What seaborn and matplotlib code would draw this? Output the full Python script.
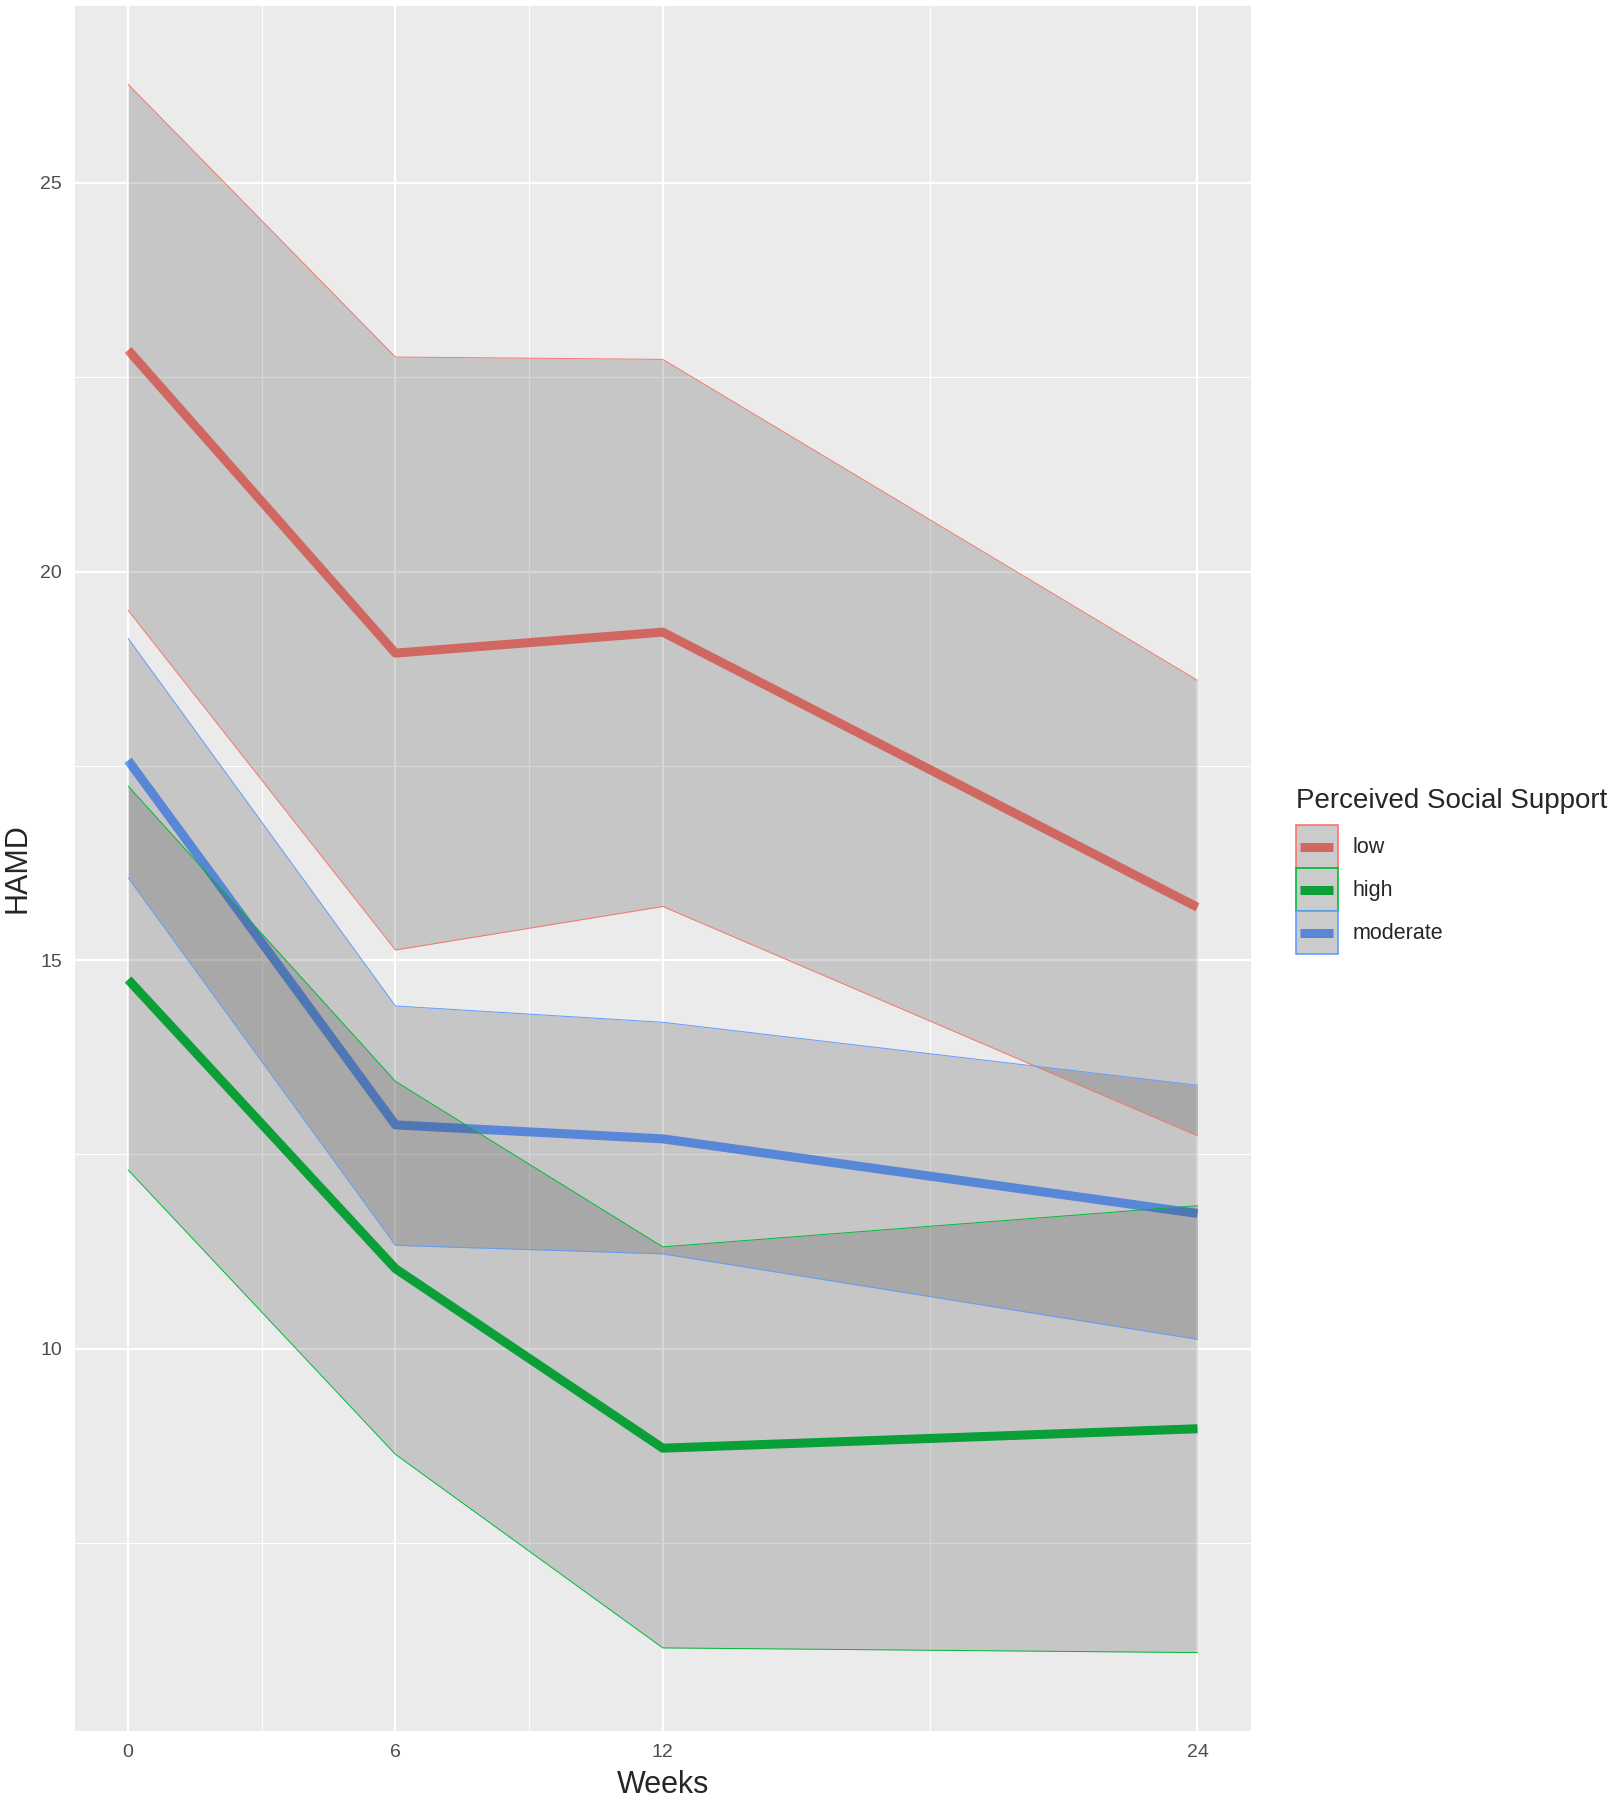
import numpy as np
import pandas as pd
import matplotlib
matplotlib.use("Agg")
import matplotlib.pyplot as plt
import seaborn as sns
from matplotlib.patches import Rectangle
from matplotlib.lines import Line2D
from matplotlib.legend_handler import HandlerBase


weeks = [0, 6, 12, 24]
groups = ["low", "high", "moderate"]

low_mean = [22.85, 18.95, 19.22, 15.68]
low_upper = [26.27, 22.76, 22.73, 18.60]
low_lower = [19.50, 15.13, 15.69, 12.74]

high_mean = [14.75, 11.03, 8.72, 8.97]
high_upper = [17.24, 13.44, 11.31, 11.84]
high_lower = [12.30, 8.64, 6.15, 6.09]

mod_mean = [17.57, 12.88, 12.70, 11.74]
mod_upper = [19.14, 14.41, 14.20, 13.39]
mod_lower = [16.06, 11.33, 11.22, 10.12]

colors = {"low": "#F8766D", "high": "#00BA38", "moderate": "#619CFF"}

df = pd.DataFrame({
    "Weeks": weeks * 3,
    "HAMD": low_mean + high_mean + mod_mean,
    "support": [g for g in groups for _ in weeks],
})
bands = {
    "low": (low_lower, low_upper),
    "high": (high_lower, high_upper),
    "moderate": (mod_lower, mod_upper),
}

sns.set_theme(style="darkgrid", rc={
    "axes.facecolor": "#EBEBEB",
    "grid.color": "white",
    "figure.facecolor": "white",
})
plt.rcParams["font.family"] = ["Liberation Sans", "DejaVu Sans"]
narrow = ["Liberation Sans Narrow", "Liberation Sans", "DejaVu Sans"]

fig = plt.figure(figsize=(16.12, 18), dpi=100)
ax = fig.add_axes([0.0463, 0.0383, 0.7297, 0.9585])

sns.lineplot(data=df, x="Weeks", y="HAMD", hue="support", hue_order=groups,
             palette=colors, lw=6.5, legend=False, estimator=None,
             errorbar=None, ax=ax, zorder=2)
for line in ax.get_lines():
    line.set_solid_capstyle("butt")

# ribbons on top of the mean lines, grey20 at alpha .2 like ggplot
for g in groups:
    lo, hi = bands[g]
    ax.fill_between(weeks, lo, hi, color=(0.2, 0.2, 0.2), alpha=0.2, lw=0, zorder=3)
    ax.plot(weeks, lo, color=colors[g], lw=0.7, zorder=4)
    ax.plot(weeks, hi, color=colors[g], lw=0.7, zorder=4)

ax.set_xlim(-1.2, 25.2)
ax.set_ylim(5.08, 27.28)
ax.set_xticks([0, 6, 12, 24])
ax.set_xticks([3, 9, 18], minor=True)
ax.set_yticks([10, 15, 20, 25])
ax.set_yticks([7.5, 12.5, 17.5, 22.5], minor=True)
ax.grid(which="major", lw=1.6)
ax.grid(which="minor", lw=0.8)
for s in ax.spines.values():
    s.set_visible(False)
ax.tick_params(which="major", length=5, width=1.2, color="#333333",
               labelcolor="#4D4D4D", labelsize=14)
ax.tick_params(axis="y", pad=4)
ax.tick_params(axis="x", pad=4)
ax.tick_params(which="minor", length=0)
for lab in ax.get_xticklabels() + ax.get_yticklabels():
    lab.set_family(narrow)

ax.set_xlabel("Weeks", fontsize=22, family=narrow, labelpad=7)
ax.set_ylabel("HAMD", fontsize=22, family=narrow, labelpad=6)


class KeyHandler(HandlerBase):
    def create_artists(self, legend, orig_handle, xdescent, ydescent,
                       width, height, fontsize, trans):
        c = orig_handle.get_color()
        x0, y0 = -xdescent, -ydescent
        bg = Rectangle((x0, y0), width, height, facecolor="#F2F2F2",
                       edgecolor="none", transform=trans)
        ln = Line2D([x0 + 0.1 * width, x0 + 0.9 * width], [y0 + height / 2] * 2,
                    color=c, lw=6.5, solid_capstyle="butt", transform=trans)
        fg = Rectangle((x0, y0), width, height, facecolor=(0.2, 0.2, 0.2, 0.2),
                       edgecolor=c, lw=1.2, transform=trans)
        return [bg, ln, fg]


handles = [Line2D([], [], color=colors[g]) for g in groups]
leg = fig.legend(handles, groups, handler_map={Line2D: KeyHandler()},
                 title="Perceived Social Support", loc="center left",
                 bbox_to_anchor=(0.797, 0.516), frameon=False, fontsize=15.5,
                 title_fontsize=20, handlelength=1.95, handleheight=2.7,
                 labelspacing=0, handletextpad=0.7, borderpad=0,
                 alignment="left")
leg._legend_box.sep = 8

fig.savefig("out.png", dpi=100)
